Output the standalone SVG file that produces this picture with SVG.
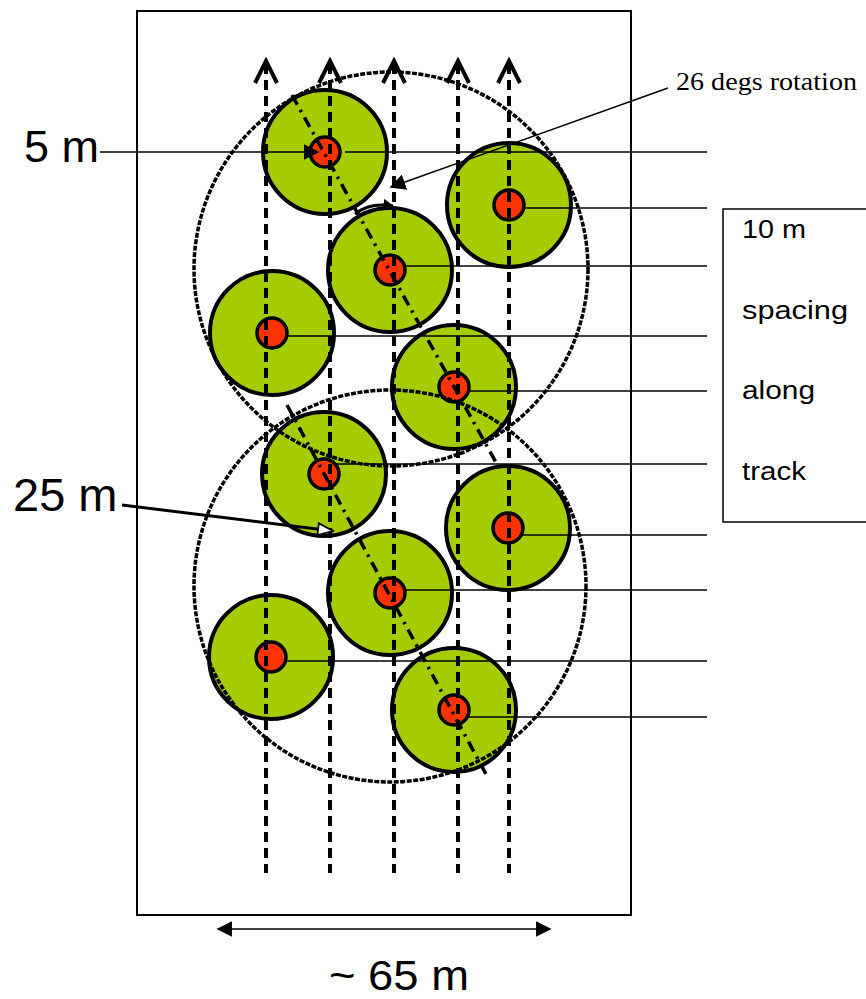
<svg xmlns="http://www.w3.org/2000/svg" width="866" height="999" viewBox="0 0 866 999">
<defs>
<style>
.green{fill:#a4cc00;stroke:#000;stroke-width:4}
.red{fill:#ff3300;stroke:#000;stroke-width:3.5}
.h{stroke:#000;stroke-width:1.5;fill:none}
.track{stroke:#000;stroke-width:4;stroke-dasharray:10 6;fill:none}
.chev{stroke:#000;stroke-width:4;fill:none;stroke-linejoin:miter}
.big{fill:none;stroke:#000;stroke-width:3.5;stroke-dasharray:5 1.5}
.dd{fill:none;stroke:#000;stroke-width:3.5;stroke-dasharray:11 6 2.5 6}
.sans{font-family:"Liberation Sans",Arial,sans-serif;fill:#000}
.serif{font-family:"Liberation Serif","Times New Roman",serif;fill:#000}
</style>
<marker id="fa" viewBox="0 0 10 10" refX="9" refY="5" markerWidth="11" markerHeight="11" markerUnits="userSpaceOnUse" orient="auto"><path d="M0,0 L10,5 L0,10 Z" fill="#000"/></marker>
<marker id="fb" viewBox="0 0 10 10" refX="9" refY="5" markerWidth="16" markerHeight="16" markerUnits="userSpaceOnUse" orient="auto-start-reverse"><path d="M0,0 L10,5 L0,10 Z" fill="#000"/></marker>
<marker id="fc" viewBox="0 0 10 10" refX="9" refY="5" markerWidth="16" markerHeight="16" markerUnits="userSpaceOnUse" orient="auto"><path d="M0,0 L10,5 L0,10 Z" fill="#000"/></marker>
<marker id="op" viewBox="0 0 12 10" refX="11" refY="5" markerWidth="18" markerHeight="15" markerUnits="userSpaceOnUse" orient="auto"><path d="M1,1 L11,5 L1,9 Z" fill="#fff" stroke="#000" stroke-width="1.2"/></marker>
</defs>
<rect width="866" height="999" fill="#fff"/>
<rect id="field" x="137" y="11" width="494" height="904" fill="none" stroke="#000" stroke-width="2"/>

<g id="circles">
<g id="n1"><circle class="green" cx="325" cy="152" r="62"/></g>
<g id="n2"><circle class="green" cx="509" cy="205" r="62"/></g>
<g id="n3"><circle class="green" cx="390" cy="270" r="62"/></g>
<g id="n4"><circle class="green" cx="272" cy="333" r="62"/></g>
<g id="n5"><circle class="green" cx="454" cy="387" r="62"/></g>
<g id="n6"><circle class="green" cx="324" cy="474" r="62"/></g>
<g id="n7"><circle class="green" cx="508" cy="528" r="62"/></g>
<g id="n8"><circle class="green" cx="390" cy="593" r="62"/></g>
<g id="n9"><circle class="green" cx="271" cy="657" r="62"/></g>
<g id="n10"><circle class="green" cx="454" cy="710" r="62"/></g>
</g>

<g id="connectors">
<line class="h" x1="345" y1="152" x2="707" y2="152"/>
<line class="h" x1="509" y1="208" x2="707" y2="208"/>
<line class="h" x1="390" y1="266" x2="707" y2="266"/>
<line class="h" x1="272" y1="336" x2="707" y2="336"/>
<line class="h" x1="455" y1="391" x2="707" y2="391"/>
<line class="h" x1="325" y1="464" x2="707" y2="464"/>
<line class="h" x1="509" y1="535" x2="707" y2="535"/>
<line class="h" x1="390" y1="590" x2="707" y2="590"/>
<line class="h" x1="271" y1="661" x2="707" y2="661"/>
<line class="h" x1="455" y1="717" x2="707" y2="717"/>
</g>

<g id="dots">
<circle class="red" cx="325" cy="152" r="15"/>
<circle class="red" cx="509" cy="205" r="15"/>
<circle class="red" cx="390" cy="270" r="15"/>
<circle class="red" cx="272" cy="333" r="15"/>
<circle class="red" cx="454" cy="387" r="15"/>
<circle class="red" cx="324" cy="474" r="15"/>
<circle class="red" cx="508" cy="528" r="15"/>
<circle class="red" cx="390" cy="593" r="15"/>
<circle class="red" cx="271" cy="657" r="15"/>
<circle class="red" cx="454" cy="710" r="15"/>
</g>

<g id="tracks">
<line class="track" x1="266" y1="64" x2="266" y2="873"/>
<line class="track" x1="330" y1="64" x2="330" y2="873"/>
<line class="track" x1="394" y1="64" x2="394" y2="873"/>
<line class="track" x1="458" y1="64" x2="458" y2="873"/>
<line class="track" x1="509" y1="64" x2="509" y2="873"/>
<polyline class="chev" points="255,83 266,61 277,83"/>
<polyline class="chev" points="319,83 330,61 341,83"/>
<polyline class="chev" points="383,83 394,61 405,83"/>
<polyline class="chev" points="447,83 458,61 469,83"/>
<polyline class="chev" points="498,83 509,61 520,83"/>
</g>

<g id="groups">
<circle class="big" cx="391" cy="269" r="197"/>
<circle class="big" cx="390" cy="586" r="196"/>
<line class="dd" x1="292" y1="95" x2="498" y2="466"/>
<line class="dd" x1="287" y1="405" x2="487" y2="776"/>
</g>

<g id="labels">
<text class="sans" x="24" y="162" font-size="45">5 m</text>
<line x1="100" y1="152" x2="318" y2="152" stroke="#000" stroke-width="1.5" marker-end="url(#fc)"/>
<text class="sans" x="13" y="511" font-size="47">25 m</text>
<line x1="122" y1="505" x2="333" y2="531" stroke="#000" stroke-width="3" marker-end="url(#op)"/>
<text class="serif" x="676" y="90" font-size="26" textLength="181" lengthAdjust="spacingAndGlyphs">26 degs rotation</text>
<line x1="668" y1="88" x2="391" y2="187" stroke="#000" stroke-width="1.5" marker-end="url(#fc)"/>
<path d="M355,214 Q370,202 393,206" fill="none" stroke="#000" stroke-width="3" marker-end="url(#fa)"/>
<rect x="723" y="209" width="150" height="313" fill="none" stroke="#000" stroke-width="1.5"/>
<text class="sans" x="742" y="238" font-size="26" textLength="64" lengthAdjust="spacingAndGlyphs">10 m</text>
<text class="sans" x="742" y="319" font-size="26" textLength="106" lengthAdjust="spacingAndGlyphs">spacing</text>
<text class="sans" x="742" y="399" font-size="26" textLength="73" lengthAdjust="spacingAndGlyphs">along</text>
<text class="sans" x="742" y="480" font-size="26" textLength="64" lengthAdjust="spacingAndGlyphs">track</text>
<line x1="218" y1="929" x2="550" y2="929" stroke="#000" stroke-width="1.5" marker-start="url(#fb)" marker-end="url(#fb)"/>
<text class="sans" x="329" y="990" font-size="42" textLength="140" lengthAdjust="spacingAndGlyphs">~ 65 m</text>
</g>
</svg>
